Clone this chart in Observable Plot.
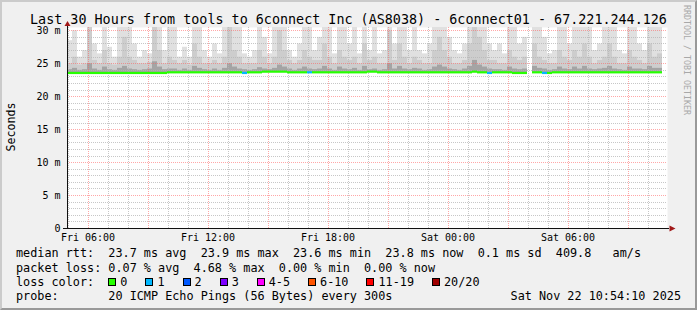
<!DOCTYPE html>
<html><head><meta charset="utf-8">
<script src="https://cdn.jsdelivr.net/npm/d3@7"></script>
<script src="https://cdn.jsdelivr.net/npm/@observablehq/plot@0.6"></script>
<style>
html,body{margin:0;padding:0;background:#f0f0f0;}
#chart{position:relative;width:697px;height:310px;background:#f0f0f0;overflow:hidden;}
#chart svg{position:absolute;left:0;top:0;}
#frame{position:absolute;left:0;top:0;width:697px;height:310px;box-sizing:border-box;border-style:solid;border-width:2px;border-color:#cbcbcb #999 #999 #cbcbcb;pointer-events:none;}
</style></head><body>
<div id="chart"><div id="frame"></div></div>
<script>
const title = "Last 30 Hours from tools to 6connect Inc (AS8038) - 6connect01 - 67.221.244.126";
const yLabel = "Seconds";
const sideLabel = "RRDTOOL / TOBI OETIKER";
const yTicks = [0, 5, 10, 15, 20, 25, 30];
const yTickLabels = ["0", "5 m", "10 m", "15 m", "20 m", "25 m", "30 m"];
const xTickTimes = ["2025-11-21T06:00:00Z", "2025-11-21T12:00:00Z", "2025-11-21T18:00:00Z", "2025-11-22T00:00:00Z", "2025-11-22T06:00:00Z"];
const xTickLabels = ["Fri 06:00", "Fri 12:00", "Fri 18:00", "Sat 00:00", "Sat 06:00"];
const startTime = "2025-11-21T04:58:30Z";
const endTime = "2025-11-22T10:58:30Z";
const binMinutes = 15;

// smoke upper edge (max ping), ms
const smokeMax = [28.5,30,26,27,31,28,26.5,31,27.5,26,
 31,31,31,28,26,27,26.5,31,31,27,
 31,31,26,27.5,26,31,31,27,26,28,
 26.5,31,31,31,31,26.5,26,27,31,29,
 26.5,31,31,31,27,26,28,31,31,27,
 29,31,31,26.5,31,31,28,31,26.5,31,
 27,31,26.5,27,31,28,31,31,27,31,
 27,26.5,28,31,31,31,29,27,26.5,28,
 31,31,31,31,28,27,28,26.5,31,31,
 28,29,null,31,31,29,26.5,27,31,31,
 28,31,31,31,31,27,28,31,31,31,
 27,26.5,31,31,28,27,31,31,31,null];
// denser smoke level, ms
const smokeMid = [25,26,24.8,25,31,25.5,25,27,25,24.8,
 26,29,26,25.5,25,25,25.2,31,27,25,
 26,25.5,25,25.5,24.8,28,26,25,25,25.5,
 25,26,31,27,26,25,25,25,27,26,
 25,26,30,27,25.5,25,25.5,27,26,25.5,
 25.5,28,26,25,27,26,25.5,26,25,28,
 25.5,26,25,25,30,25.5,28,26,25,26,
 25.5,25,25,27,29,27,26,25,25,25.5,
 28,31,29,27,25.5,25.5,25,25,27,26,
 25.5,26,null,28,26,25.5,25,25,27,26,
 25.5,27,26,28,26,25,25.5,26,28,26,
 25,25,27,26,25.5,25,28,26,26.5,null];
// darkest smoke near the median, ms
const smokeDark = [24.1,24.3,24,24.1,25,24.2,24,24.5,24.1,24,
 24.3,24.6,24.2,24.1,24,24.1,24.2,25.3,24.5,24.1,
 24.2,24.2,24,24.2,24,24.6,24.3,24.1,24,24.2,
 24,24.3,25,24.5,24.2,24.1,24,24.1,24.4,24.2,
 24.1,24.3,24.8,24.5,24.2,24,24.2,24.5,24.2,24.1,
 24.2,24.6,24.2,24,24.5,24.2,24.1,24.3,24,24.6,
 24.1,24.2,24,24.1,25,24.2,24.6,24.2,24.1,24.3,
 24.2,24,24.1,24.5,24.8,24.5,24.2,24.1,24,24.2,
 24.6,25.5,24.8,24.5,24.2,24.1,24.1,24,24.5,24.2,
 24.1,24.2,null,24.6,24.3,24.2,24,24.1,24.5,24.2,
 24.1,24.5,24.2,24.6,24.2,24.1,24.2,24.3,24.6,24.2,
 24.1,24,24.5,24.2,24.2,24.1,24.6,24.3,24.3,null];
// median rtt, ms
const median = [23.6,23.6,23.6,23.6,23.6,23.6,23.6,23.6,23.6,23.6,
 23.6,23.6,23.6,23.6,23.6,23.6,23.6,23.6,23.6,23.6,
 23.7,23.7,23.7,23.7,23.7,23.7,23.7,23.7,23.7,23.7,
 23.7,23.7,23.7,23.7,23.7,23.6,23.7,23.7,23.7,23.8,
 23.8,23.8,23.8,23.8,23.7,23.7,23.7,23.7,23.7,23.7,
 23.7,23.7,23.7,23.7,23.7,23.7,23.7,23.7,23.7,23.7,
 23.8,23.8,23.7,23.7,23.7,23.7,23.7,23.7,23.7,23.7,
 23.7,23.7,23.7,23.7,23.7,23.7,23.7,23.7,23.7,23.7,
 23.7,23.8,23.7,23.7,23.6,23.7,23.7,23.7,23.7,23.6,
 23.6,23.6,null,23.7,23.7,23.6,23.6,23.7,23.7,23.7,
 23.7,23.7,23.7,23.7,23.7,23.7,23.7,23.7,23.7,23.7,
 23.7,23.7,23.7,23.7,23.7,23.7,23.7,23.7,23.7,null];
// lost pings per interval
const loss = [0,0,0,0,0,0,0,0,0,0, 0,0,0,0,0,0,0,0,0,0, 0,0,0,0,0,0,0,0,0,0,
 0,0,0,0,0,1,0,0,0,0, 0,0,0,0,0,0,0,0,1,0, 0,0,0,0,0,0,0,0,0,0,
 0,0,0,0,0,0,0,0,0,0, 0,0,0,0,0,0,0,0,0,0, 0,0,0,0,1,0,0,0,0,0,
 0,0,0,0,0,1,0,0,0,0, 0,0,0,0,0,0,0,0,0,0, 0,0,0,0,0,0,0,0,0,0];
const lossLabels = ["0", "1", "2", "3", "4-5", "6-10", "11-19", "20/20"];
const lossColors = ["#26ff00", "#00b8ff", "#0059ff", "#7e00ff", "#ff00ff", "#ff5500", "#ff0000", "#a00000"];
const statLines = [
  "median rtt:  23.7 ms avg  23.9 ms max  23.6 ms min  23.8 ms now  0.1 ms sd  409.8   am/s",
  "packet loss: 0.07 % avg  4.68 % max  0.00 % min  0.00 % now",
  "loss color:",
  "probe:       20 ICMP Echo Pings (56 Bytes) every 300s"
];
const stamp = "Sat Nov 22 10:54:10 2025";

// ---- build ----
const t0 = new Date(startTime), t1 = new Date(endTime);
const stepMs = binMinutes * 60000;
const rows = smokeMax.map((mx, i) => ({
  a: new Date(+t0 + i * stepMs), b: new Date(+t0 + (i + 1) * stepMs),
  max: mx, mid: smokeMid[i], dark: smokeDark[i], med: median[i], loss: loss[i]
})).filter(d => d.med != null);
const xTicks = xTickTimes.map(s => new Date(s));
const hours = d3.utcHour.range(d3.utcHour.ceil(t0), t1);
const majorHours = hours.filter(h => h.getUTCHours() % 3 === 0);
const minorHours = hours.filter(h => h.getUTCHours() % 3 !== 0);
const msLines = d3.range(1, 31);
const minorMs = msLines.filter(v => v % 5 !== 0);
const majorMs = msLines.filter(v => v % 5 === 0);
const mono = "'DejaVu Sans Mono', monospace";

const plot = Plot.plot({
  width: 697, height: 310,
  marginLeft: 67, marginRight: 30, marginTop: 27, marginBottom: 82,
  style: {background: "transparent", fontFamily: mono, fontSize: "10px", color: "#000", overflow: "visible"},
  x: {type: "utc", domain: [t0, t1], ticks: xTicks,
      tickFormat: d => xTickLabels[xTicks.findIndex(t => +t === +d)],
      tickSize: 0, tickPadding: 5, label: null},
  y: {domain: [0, 30.5], ticks: yTicks,
      tickFormat: d => yTickLabels[yTicks.indexOf(d)],
      tickSize: 0, tickPadding: 7, label: null},
  marks: [
    Plot.frame({fill: "#ffffff", stroke: "none"}),
    Plot.rect(rows, {x1: "a", x2: "b", y1: "med", y2: "max", fill: "#e0e0e0", clip: true}),
    Plot.rect(rows, {x1: "a", x2: "b", y1: "med", y2: "mid", fill: "#cdcdcd", clip: true}),
    Plot.rect(rows, {x1: "a", x2: "b", y1: "med", y2: "dark", fill: "#a4a4a4", clip: true}),
    Plot.ruleX(minorHours, {stroke: "#b4b4b4", strokeOpacity: 0.75, strokeDasharray: "1,1", shapeRendering: "crispEdges"}),
    Plot.ruleY(minorMs, {stroke: "#b4b4b4", strokeOpacity: 0.75, strokeDasharray: "1,1", shapeRendering: "crispEdges"}),
    Plot.ruleX(majorHours, {stroke: "#ff5f5f", strokeOpacity: 0.55, strokeDasharray: "1,1", shapeRendering: "crispEdges"}),
    Plot.ruleY(majorMs, {stroke: "#ff5f5f", strokeOpacity: 0.55, strokeDasharray: "1,1", shapeRendering: "crispEdges"}),
    Plot.ruleY(rows, {y: "med", x1: "a", x2: "b", stroke: d => lossColors[d.loss], strokeWidth: 2.2}),
    Plot.ruleY([0], {stroke: "#111", insetLeft: -4, insetRight: -2, shapeRendering: "crispEdges"}),
    Plot.ruleX([t0], {stroke: "#111", insetTop: -2, shapeRendering: "crispEdges"})
  ]
});

const svg = d3.select(plot);
svg.attr("font-family", mono);
const xs = plot.scale("x"), ys = plot.scale("y");
const xL = xs.apply(t0) + 0.5, xR = xs.apply(t1) + 0.5, yB = ys.apply(0) + 0.5, yT = ys.apply(30.5);
svg.append("path").attr("d", `M${xR + 2},${yB - 3}L${xR + 8},${yB}L${xR + 2},${yB + 3}Z`).attr("fill", "#a01818");
svg.append("path").attr("d", `M${xL - 3},${yT - 1}L${xL},${yT - 6}L${xL + 3},${yT - 1}Z`).attr("fill", "#a01818");

function txt(s, x, y, size, anchor) {
  return svg.append("text").attr("x", x).attr("y", y).attr("font-size", size)
    .attr("text-anchor", anchor || "start").attr("fill", "#000")
    .attr("xml:space", "preserve").style("white-space", "pre").text(s);
}
txt(title, 348.5, 23.5, "13.4px", "middle");
txt(yLabel, 0, 0, "11.6px", "middle").attr("transform", "translate(14.5,127) rotate(-90)");
txt(sideLabel, 0, 0, "8.3px", "start").attr("fill", "#a8a8a8").attr("transform", "translate(684,5) rotate(90)");

const cw = 11.8 * 0.602, lx = 16, rowY = [257.4, 271.6, 285.8, 300];
statLines.forEach((s, i) => txt(s, lx, rowY[i], "11.8px", "start"));
txt(stamp, 681, rowY[3], "11.8px", "end");
let sx = lx + 13 * cw;
lossLabels.forEach((lab, i) => {
  svg.append("rect").attr("x", Math.round(sx) + 0.5).attr("y", 278.5).attr("width", 7).attr("height", 7)
    .attr("fill", lossColors[i]).attr("stroke", "#000").attr("stroke-width", 1);
  txt(lab, sx + 12, rowY[2], "11.8px", "start");
  sx = sx + 12 + lab.length * cw + 18;
});

document.getElementById("chart").insertBefore(plot, document.getElementById("frame"));
</script>
</body></html>
